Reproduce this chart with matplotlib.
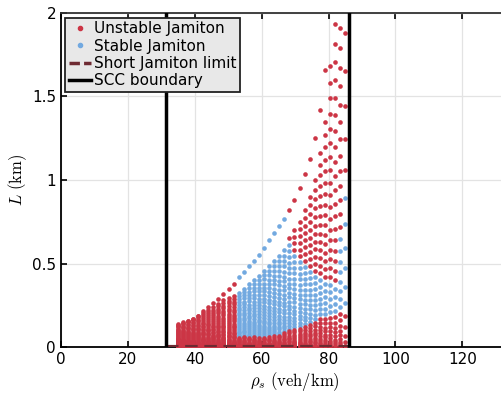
import matplotlib.pyplot as plt
from matplotlib.lines import Line2D
import numpy as np

plt.rcParams["font.family"] = ["DejaVu Sans"]
plt.rcParams["mathtext.fontset"] = "cm"

# sonic density of each computed column (veh/km)
rho_s = [35.0, 36.5, 38.0, 39.5, 41.1, 42.6, 44.1, 45.6, 47.1, 48.6, 50.2, 51.7,
         53.2, 54.7, 56.2, 57.7, 59.2, 60.8, 62.3, 63.8, 65.3, 66.8, 68.3, 69.8,
         71.4, 72.9, 74.4, 75.9, 77.4, 78.9, 80.5, 82.0, 83.5, 85.0]
# isolated top jamiton of each column (km)
L_env = [0.14, 0.148, 0.158, 0.17, 0.188, 0.213, 0.238, 0.263, 0.29, 0.318, 0.35, 0.38,
         0.42, 0.45, 0.483, 0.517, 0.55, 0.59, 0.64, 0.68, 0.725, 0.768, 0.82, 0.88,
         0.95, 1.035, 1.125, 1.25, 1.42, 1.66, 2.07, 2.5, 2.9, 10.0]
# top of the regular family below it (km)
L_top = [0.132, 0.144, 0.156, 0.17, 0.184, 0.201, 0.222, 0.238, 0.258, 0.28, 0.295, 0.307,
         0.325, 0.35, 0.375, 0.40, 0.427, 0.457, 0.485, 0.515, 0.545, 0.58, 0.65, 0.70,
         0.75, 0.82, 0.90, 1.0, 1.16, 1.35, 1.68, 2.05, 2.3, 8.5]
# stable band: lo <= L <= hi
stable_lo = [9, 9, 9, 9, 9, 9, 9, 9, 9, 9, 9, 9,
             0.06, 0.06, 0.06, 0.06, 0.06, 0.062, 0.065, 0.07, 0.078, 0.085, 0.1, 0.11,
             0.125, 0.135, 0.15, 0.16, 0.17, 0.18, 0.19, 0.2, 0.2, 0.2]
stable_hi = [9, 9, 9, 9, 9, 9, 9, 9, 9, 9, 9, 9,
             9, 9, 9, 9, 9, 9, 9, 9, 9, 9, 0.63, 0.58,
             0.53, 0.50, 0.47, 0.45, 0.43, 0.42, 0.40, 0.36, 0.70, 1.0]
env_stable = [False] * 12 + [True] * 10 + [False] * 12
# relative positions of the rows in a column
row_frac = [0.0009, 0.0035, 0.0078, 0.0138, 0.0216, 0.0311, 0.0424, 0.0554, 0.0701,
            0.0865, 0.1047, 0.1246, 0.1462, 0.1696, 0.1946, 0.2215, 0.25, 0.2803,
            0.3123, 0.346, 0.3815, 0.4187, 0.4576, 0.4983, 0.5406, 0.5848, 0.6306,
            0.6782, 0.7275, 0.7785, 0.8313, 0.8858, 0.942, 1.0]

scc_rho = [31.4, 86.0]
limit_rho = [31.4, 86.0]
limit_L = [0.0, 0.0]

red = "#cc3545"
blue = "#72a9e0"
maroon = "#6e2a32"

ur, uL, sr, sL = [], [], [], []
for r, env, top, lo, hi, es in zip(rho_s, L_env, L_top, stable_lo, stable_hi, env_stable):
    for L in np.array(row_frac) * top:
        if lo <= L <= hi:
            sr.append(r); sL.append(L)
        else:
            ur.append(r); uL.append(L)
    if es:
        sr.append(r); sL.append(env)
    else:
        ur.append(r); uL.append(env)

fig = plt.figure(figsize=(5.02, 3.96), dpi=100)
ax = fig.add_axes([0.1213, 0.1237, 0.933, 0.8435])

ax.scatter(sr, sL, s=11, color=blue, linewidths=0, zorder=3)
ax.scatter(ur, uL, s=11, color=red, linewidths=0, zorder=3)
ax.plot(limit_rho, limit_L, color=maroon, lw=3, ls=(0, (3, 1.6)), zorder=4)
for x in scc_rho:
    ax.axvline(x, color="black", lw=2.5, zorder=5)

ax.set_xlim(0, 140)
ax.set_ylim(0, 2)
ax.set_xticks([0, 20, 40, 60, 80, 100, 120])
ax.set_yticks([0, 0.5, 1, 1.5, 2])
ax.set_yticklabels(["0", "0.5", "1", "1.5", "2"])
ax.tick_params(direction="in", top=True, right=True, labelsize=11, length=4, width=1.2)
ax.grid(True, color="#e3e3e3", lw=0.9)
ax.set_axisbelow(True)
for sp in ax.spines.values():
    sp.set_linewidth(1.3)
ax.spines["top"].set_color("#333333")

ax.set_xlabel(r"$\rho_s\ \mathrm{(veh/km)}$", fontsize=12, labelpad=2)
ax.set_ylabel(r"$L\ \mathrm{(km)}$", fontsize=12, labelpad=2)

handles = [
    Line2D([], [], ls="none", marker="o", ms=3, color=red),
    Line2D([], [], ls="none", marker="o", ms=3, color=blue),
    Line2D([], [], color=maroon, lw=2.5, ls=(0, (3, 1.2))),
    Line2D([], [], color="black", lw=2.5),
]
labels = ["Unstable Jamiton", "Stable Jamiton", "Short Jamiton limit", "SCC boundary"]
leg = ax.legend(handles, labels, loc="upper left", fontsize=11, fancybox=False,
                facecolor="#e8e8e8", edgecolor="#222222", framealpha=1,
                handlelength=1.4, handletextpad=0.2, borderpad=0.25,
                labelspacing=0.15, borderaxespad=0.3)
leg.get_frame().set_linewidth(1.3)
leg.set_zorder(10)

fig.savefig("out.png", dpi=100)
